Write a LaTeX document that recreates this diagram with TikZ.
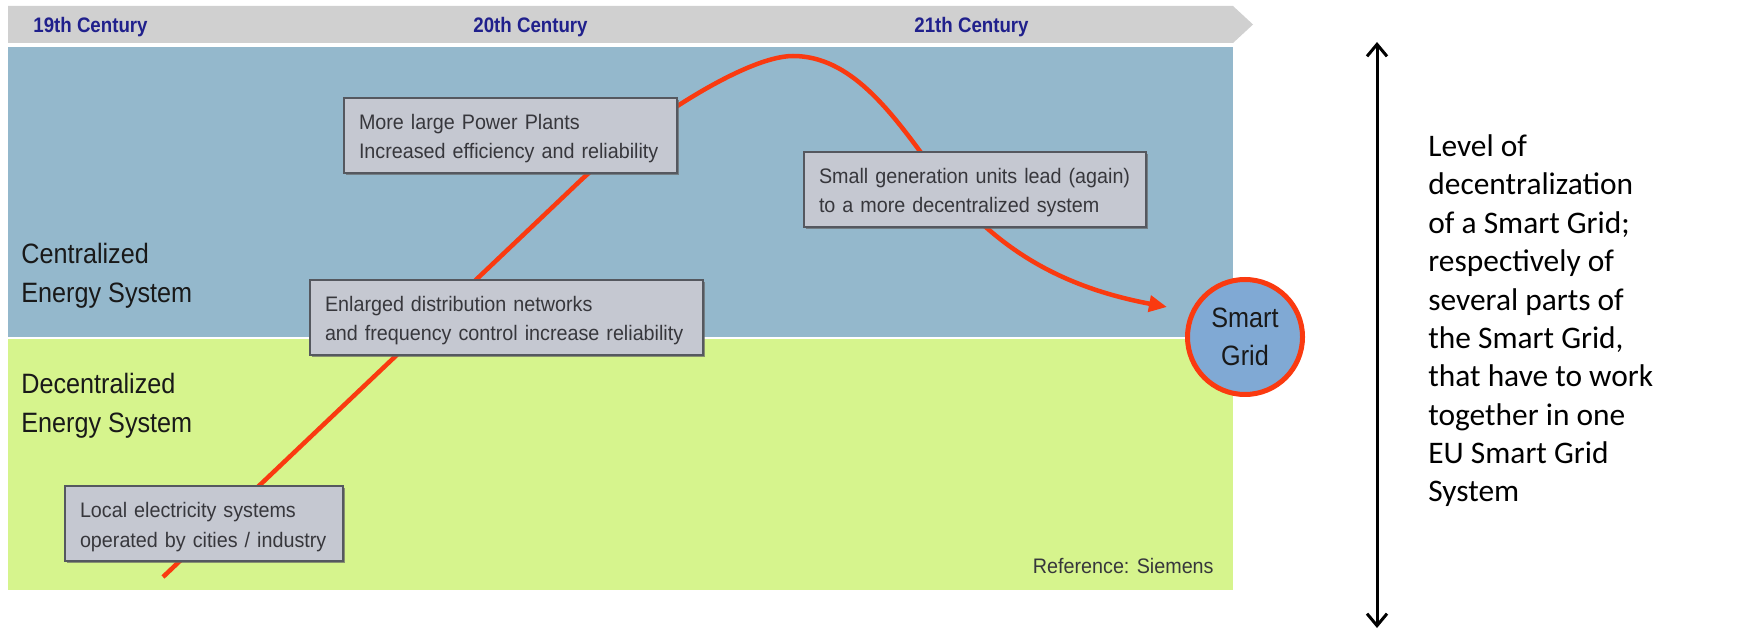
\documentclass[tikz,border=0pt]{standalone}
\usepackage{fontspec}
\setmainfont{Liberation Sans}
\newfontfamily\narrowfont[FakeStretch=0.94]{Liberation Sans}
\newfontfamily\condfont[FakeStretch=0.9]{Liberation Sans}
\newfontfamily\boldcond[FakeStretch=0.89]{Liberation Sans Bold}
\newfontfamily\calibrifont{Carlito}
\usetikzlibrary{arrows.meta,shadows}

\definecolor{barGrey}{RGB}{208,208,208}
\definecolor{panelBlue}{RGB}{148,184,204}
\definecolor{panelGreen}{RGB}{214,244,141}
\definecolor{curveRed}{RGB}{250,58,16}
\definecolor{boxFill}{RGB}{197,200,209}
\definecolor{boxLine}{RGB}{85,88,95}
\definecolor{boxText}{RGB}{55,55,60}
\definecolor{centNavy}{RGB}{32,32,140}
\definecolor{smartFill}{RGB}{128,169,212}
\definecolor{labelInk}{RGB}{25,25,25}

\begin{document}
\begin{tikzpicture}[x=0.5pt,y=-0.5pt,
  infobox/.style={draw=boxLine, line width=1pt, fill=boxFill, text=boxText,
    align=left, anchor=north west, inner xsep=7.5pt, inner ysep=0pt,
    text height=15.75pt, text depth=21.75pt,
    font=\narrowfont\fontsize{10.5pt}{14.75pt}\selectfont,
    drop shadow={shadow xshift=0.8pt, shadow yshift=-0.8pt, fill=black!60, opacity=0.7}},
  century/.style={anchor=base west, text=centNavy, inner sep=0pt,
    font=\boldcond\fontsize{10.5pt}{12pt}\selectfont},
  regionlabel/.style={anchor=base west, align=left, text=labelInk, inner sep=0pt,
    font=\condfont\fontsize{14pt}{19.5pt}\selectfont},
  trend/.style={draw=curveRed, line width=2.25pt, -{Triangle[length=9pt,width=8pt]}},
  level/.style={line width=1.5pt, {Straight Barb[length=6pt,width=10pt]}-{Straight Barb[length=6pt,width=10pt]}}
]
\useasboundingbox (0,0) rectangle (1740,630);

% timeline bar
\fill[barGrey] (8,6) -- (1233,6) -- (1253,24.5) -- (1233,43) -- (8,43) -- cycle;
\node[century] (c19) at (33,33) {19th Century};
\node[century] (c20) at (473,33) {20th Century};
\node[century] (c21) at (914,33) {21th Century};

% panels
\fill[panelBlue] (8,47) rectangle (1233,337);
\fill[panelGreen] (8,339) rectangle (1233,590);

% (base anchor of a multi-line node = baseline of its last line)
\node[regionlabel] (central) at (21,303) {Centralized\\Energy System};
\node[regionlabel] (decentral) at (21,433) {Decentralized\\Energy System};

% trend curve
\coordinate (cStart) at (163,577);
\coordinate (cTip) at (1167,307);
\draw[trend] (cStart) -- (580,181) .. controls (640,125) and (745,56) .. (793,56)
  .. controls (850,56) and (890,110) .. (930,165)
  .. controls (985,240) and (1050,285) .. (cTip);

% info boxes
\node[infobox, text width=151.5pt] (plants) at (343,97)
  {More large Power Plants\\Increased efficiency and reliability};
\node[infobox, text width=181.5pt] (networks) at (309,279)
  {Enlarged distribution networks\\and frequency control increase reliability};
\node[infobox, text width=156pt] (smallgen) at (803,151)
  {Small generation units lead (again)\\to a more decentralized system};
\node[infobox, text width=124pt] (local) at (64,485)
  {Local electricity systems\\operated by cities / industry};

\node[anchor=base east, inner sep=0pt, text=boxText,
  font=\narrowfont\fontsize{10.5pt}{12pt}\selectfont] (ref) at (1214,573) {Reference: Siemens};

% smart grid
\node[circle, draw=curveRed, line width=2.5pt, fill=smartFill, minimum size=57.5pt,
  inner sep=0pt, align=center, text=labelInk,
  font=\condfont\fontsize{14pt}{19pt}\selectfont] (smart) at (1245,337) {Smart\\Grid};

% level arrow
\coordinate (arrTop) at (1377,42);
\coordinate (arrBot) at (1377,628);
\draw[level] (arrTop) -- (arrBot);

\node[anchor=base west, align=left, inner sep=0pt, text=black,
  font=\calibrifont\fontsize{15.7pt}{19.2pt}\selectfont] (levelText) at (1428,502)
  {Level of\\decentralization\\of a Smart Grid;\\respectively of\\several parts of\\the Smart Grid,\\that have to work\\together in one\\EU Smart Grid\\System};
\end{tikzpicture}
\end{document}
